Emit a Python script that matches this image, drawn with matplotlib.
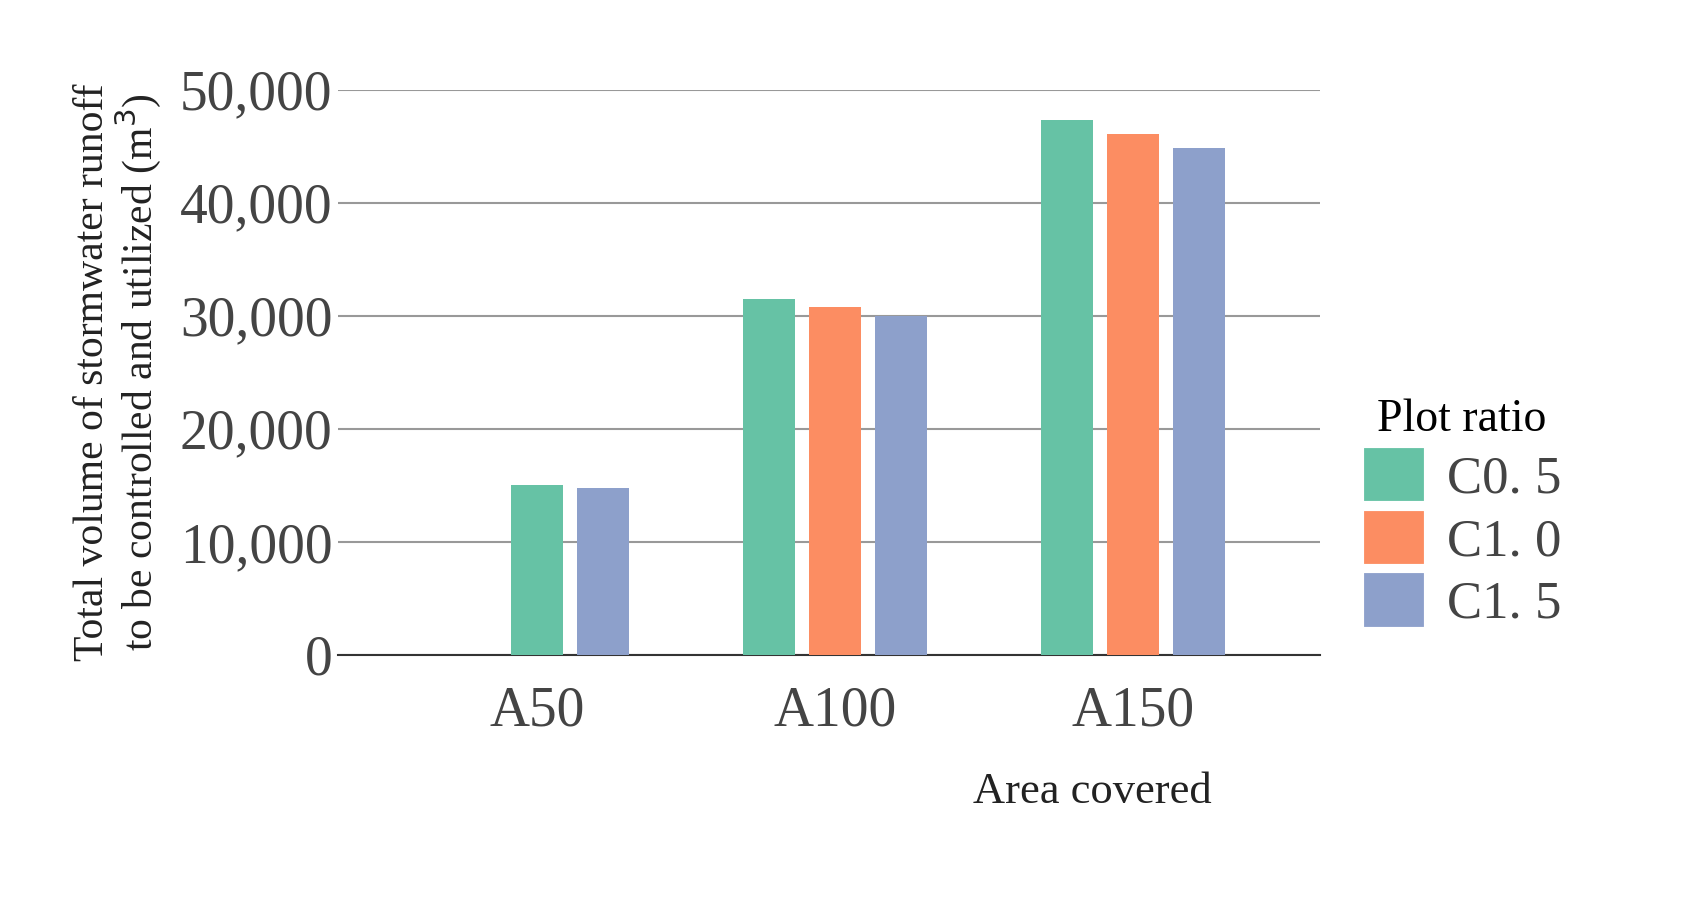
import numpy as np
import matplotlib.pyplot as plt
from matplotlib.patches import Patch

areas = ["A50", "A100", "A150"]
ratios = ["C0. 5", "C1. 0", "C1. 5"]
c05 = [15000, 31500, 47300]
c10 = [np.nan, 30800, 46100]
c15 = [14800, 30000, 44800]
colors = ["#66c2a5", "#fc8d62", "#8da0cb"]
yticks = [0, 10000, 20000, 30000, 40000, 50000]

plt.rcParams['font.family'] = ['Liberation Serif', 'DejaVu Serif']
txt = "#444444"

fig = plt.figure(figsize=(17.02, 8.97), dpi=100)
ax = fig.add_axes([0.1986, 0.270, 0.577, 0.630])

step = 0.221
width = 0.175
series = [c05, c10, c15]
# groups with a missing value are compacted, first present bar at group centre
for g in range(len(areas)):
    present = [k for k in range(3) if not np.isnan(series[k][g])]
    start = -step if len(present) == 3 else 0.0
    for j, k in enumerate(present):
        ax.bar(g + start + j * step, series[k][g], width=width,
               color=colors[k], zorder=3)

ax.set_xlim(-0.668, 2.627)
ax.set_ylim(0, 50000)
ax.set_yticks(yticks)
ax.set_yticklabels([f"{v:,}" for v in yticks])
ax.set_xticks(range(len(areas)))
ax.set_xticklabels(areas)
ax.tick_params(axis='both', length=0, labelsize=40, colors=txt)
ax.tick_params(axis='y', pad=4)
ax.tick_params(axis='x', pad=22)
ax.grid(axis='y', color='#999999', lw=1.5, zorder=0)
for s in ['top', 'right', 'left']:
    ax.spines[s].set_visible(False)
ax.spines['bottom'].set_color('#333333')
ax.spines['bottom'].set_linewidth(1.5)

ax.set_ylabel("Total volume of stormwater runoff\nto be controlled and utilized (m$^3$)",
              fontsize=30, color='#222222', labelpad=12, linespacing=1.0)
fig.text(0.642, 0.105, "Area covered", fontsize=32, color='#222222', ha='center')

handles = [Patch(facecolor=c, edgecolor='white', lw=3) for c in colors]
leg = ax.legend(handles, ratios, title="Plot ratio", loc='center left',
                bbox_to_anchor=(1.0, 0.25), frameon=False, fontsize=38,
                title_fontsize=33, handlelength=1.2, handleheight=1.3,
                handletextpad=0.4, labelspacing=0.1, borderaxespad=0.4)
for t in leg.get_texts():
    t.set_color(txt)

fig.savefig("out.png", dpi=100)
